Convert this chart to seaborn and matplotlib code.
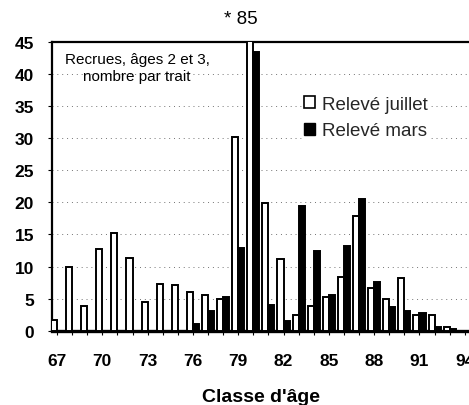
import matplotlib
matplotlib.use("Agg")
import matplotlib.pyplot as plt
import seaborn as sns
import pandas as pd
from matplotlib.patches import Patch

# ---- data ----
years = list(range(67, 95))
juillet = [1.7, 9.9, 3.9, 12.8, 15.3, 11.4, 4.5, 7.3, 7.2, 6.0, 5.6, 5.0, 30.2, 85,
           19.9, 11.2, 2.4, 3.8, 5.2, 8.3, 17.9, 6.7, 4.9, 8.2, 2.4, 2.4, 0.6, 0]
mars = [0, 0, 0, 0, 0, 0, 0, 0, 0, 1.0, 3.1, 5.3, 12.9, 43.5,
        4.0, 1.5, 19.5, 12.4, 5.6, 13.2, 20.5, 7.6, 3.7, 3.1, 2.8, 0.5, 0.3, 0]
series_labels = ["Relevé juillet", "Relevé mars"]
xtick_values = list(range(67, 95, 3))
ytick_values = list(range(0, 46, 5))

sns.set_theme(style="white")
plt.rcParams["font.family"] = ["Liberation Sans", "DejaVu Sans"]

df = pd.DataFrame({
    "Classe": years + years,
    "Nombre": juillet + mars,
    "Relevé": [series_labels[0]] * len(years) + [series_labels[1]] * len(years),
})

fig = plt.figure(figsize=(4.69, 4.06), dpi=100)
ax = fig.add_axes([52 / 469, 1 - 331.7 / 406, 1 - 52 / 469, (331.7 - 43) / 406])

sns.barplot(data=df, x="Classe", y="Nombre", hue="Relevé", hue_order=series_labels,
            native_scale=True, palette=["white", "black"], edgecolor="black",
            linewidth=1.4, width=0.8, saturation=1, legend=False, ax=ax)
for p in ax.patches:
    p.set_zorder(3)

ax.set_xlim(66.67, 94.28)
ax.set_ylim(0, 45)
ax.set_yticks(ytick_values)
ax.set_xticks(xtick_values)
ax.set_xticks(years, minor=True)
ax.yaxis.grid(True, linestyle=(0, (1, 4)), color="0.45", lw=0.7)
ax.set_axisbelow(True)

for side in ["left", "top"]:
    ax.spines[side].set_color("black")
    ax.spines[side].set_linewidth(1.6)
ax.spines["bottom"].set_color("black")
ax.spines["bottom"].set_linewidth(2.4)
ax.spines["right"].set_visible(False)

ax.tick_params(axis="x", which="both", direction="out", length=3, width=0.8,
               color="black", bottom=True)
ax.tick_params(axis="x", which="major", pad=13, labelsize=12.5)
ax.tick_params(axis="y", direction="out", length=3, width=0.8, color="black",
               left=True, pad=10, labelsize=12.5)
for lab in ax.get_xticklabels() + ax.get_yticklabels():
    lab.set_fontweight("bold")
    lab.set_color("black")

ax.set_xlabel("Classe d'âge", fontsize=14, fontweight="bold", color="black")
ax.set_ylabel("")
ax.xaxis.label.set_va("center")
ax.xaxis.set_label_coords((261 - 52) / 417, (331.7 - 398) / 288.7)

ax.text(72.3, 41.0, "Recrues, âges 2 et 3,\nnombre par trait", ha="center",
        va="center", fontsize=11, linespacing=1.3, color="black", zorder=4)
ax.text(79.2, 48.6, "* 85", ha="center", va="center", fontsize=13.5,
        color="black", clip_on=False)

handles = [Patch(facecolor="white", edgecolor="black", linewidth=1.2),
           Patch(facecolor="black", edgecolor="black")]
leg = ax.legend(handles, series_labels, loc="center left",
                bbox_to_anchor=((302 - 52) / 417, (331.7 - 118.5) / 288.7),
                frameon=True, fontsize=13.5, handlelength=0.6, handleheight=0.6,
                handletextpad=0.35, labelspacing=0.5, borderaxespad=0, borderpad=0.1,
                fancybox=False, framealpha=1, facecolor="white", edgecolor="white")
leg.set_zorder(5)

fig.savefig("out.png", dpi=100)
